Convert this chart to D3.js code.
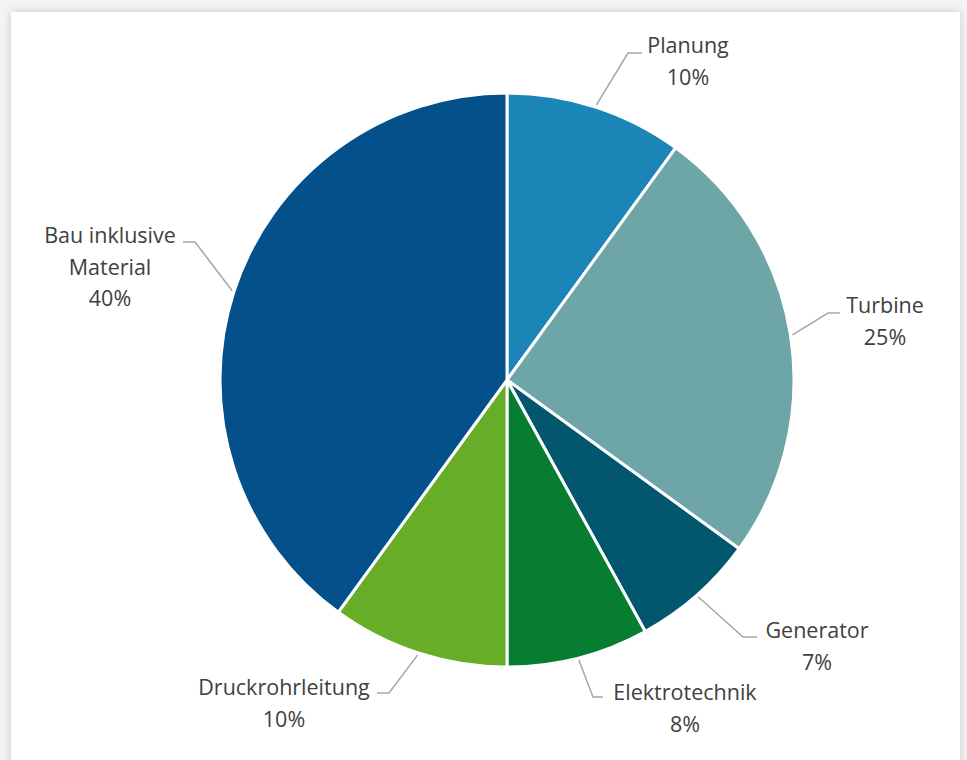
<!DOCTYPE html>
<html>
<head>
<meta charset="utf-8">
<script src="https://cdn.jsdelivr.net/npm/d3@7"></script>
<style>
  body { margin: 0; background: #f4f4f4; }
  svg { display: block; }
</style>
</head>
<body>
<svg id="chart" width="967" height="760"></svg>
<script>
// data
var categories = ["Planung", "Turbine", "Generator", "Elektrotechnik", "Druckrohrleitung", "Bau inklusive Material"];
var shares = [10, 25, 7, 8, 10, 40];
var labelLines = [["Planung"], ["Turbine"], ["Generator"], ["Elektrotechnik"], ["Druckrohrleitung"], ["Bau inklusive", "Material"]];
var colors = ["#1b85b8", "#6ea6a8", "#02566e", "#067d31", "#67ad27", "#03508a"];

// label layout: elbow point of leader, end of horizontal stub, text centre x, first baseline
var labelLayout = [
  {elbow: [628, 53], stub: [642, 53], tx: 688, ty: 53},
  {elbow: [828, 313], stub: [840, 313], tx: 885, ty: 313},
  {elbow: [743, 637], stub: [757, 637], tx: 817, ty: 638},
  {elbow: [593, 697], stub: [603, 697], tx: 685, ty: 700},
  {elbow: [389, 693], stub: [377, 693], tx: 284, ty: 695},
  {elbow: [195, 242], stub: [183, 242], tx: 110, ty: 243}
];

var width = 967, height = 760;
var cx = 507, cy = 380, radius = 287;

var svg = d3.select("#chart");

// card with soft shadow
var defs = svg.append("defs");
var f = defs.append("filter").attr("id", "shadow").attr("x", "-5%").attr("y", "-5%").attr("width", "110%").attr("height", "110%");
f.append("feDropShadow").attr("dx", 0).attr("dy", 0).attr("stdDeviation", 4).attr("flood-color", "#000").attr("flood-opacity", 0.18);

svg.append("rect").attr("x", 11).attr("y", 12).attr("width", 949).attr("height", 780)
  .attr("fill", "#fff").attr("filter", "url(#shadow)");

var data = categories.map(function(c, i) {
  return {name: c, value: shares[i], lines: labelLines[i], color: colors[i], layout: labelLayout[i]};
});

var pie = d3.pie().sort(null).value(function(d) { return d.value; });
var arc = d3.arc().innerRadius(0).outerRadius(radius);
var arcs = pie(data);

var g = svg.append("g").attr("transform", "translate(" + cx + "," + cy + ")");

g.selectAll("path.slice")
  .data(arcs)
  .enter().append("path")
  .attr("class", "slice")
  .attr("d", arc)
  .attr("fill", function(d) { return d.data.color; })
  .attr("stroke", "#fff")
  .attr("stroke-width", 3)
  .attr("stroke-linejoin", "round");

// leader lines start on the rim at the middle angle
svg.selectAll("polyline.leader")
  .data(arcs)
  .enter().append("polyline")
  .attr("class", "leader")
  .attr("points", function(d) {
    var mid = (d.startAngle + d.endAngle) / 2;
    var p = [cx + (radius + 2) * Math.sin(mid), cy - (radius + 2) * Math.cos(mid)];
    var L = d.data.layout;
    return [p, L.elbow, L.stub].map(function(q) { return q.join(","); }).join(" ");
  })
  .attr("fill", "none")
  .attr("stroke", "#a6a6a6")
  .attr("stroke-width", 1.5);

var labels = svg.selectAll("text.lbl")
  .data(arcs)
  .enter().append("text")
  .attr("class", "lbl")
  .attr("text-anchor", "middle")
  .attr("font-family", "'Open Sans', sans-serif")
  .attr("font-size", 21.5)
  .attr("fill", "#404040");

labels.each(function(d) {
  var t = d3.select(this);
  var L = d.data.layout;
  var lines = d.data.lines.concat([d.data.value + "%"]);
  lines.forEach(function(s, i) {
    t.append("tspan").attr("x", L.tx).attr("y", L.ty + i * 31.5).text(s);
  });
});
</script>
</body>
</html>
